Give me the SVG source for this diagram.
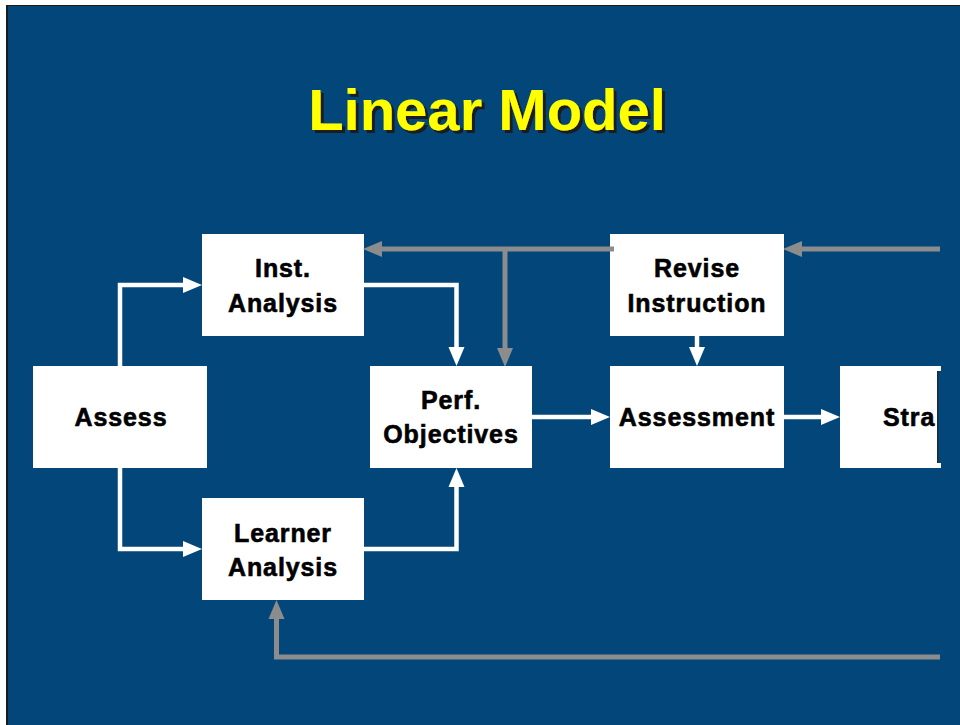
<svg xmlns="http://www.w3.org/2000/svg" width="960" height="725" viewBox="0 0 960 725">
  <defs>
    <style>
      .box { fill: #ffffff; }
      .lbl { font-family: "Liberation Sans", Arial, sans-serif; font-weight: bold; font-size: 25px; letter-spacing: 0.9px; fill: #000000; stroke: #000000; stroke-width: 0.6; text-anchor: middle; }
      .title { font-family: "Liberation Sans", Arial, sans-serif; font-weight: bold; font-size: 58px; text-anchor: middle; fill: #ffff00; filter: url(#shadow); }
      .wire-w { fill: none; stroke: #ffffff; stroke-width: 4.5; stroke-linejoin: miter; marker-end: url(#headW); }
      .wire-g { fill: none; stroke: #8c8c8c; stroke-width: 5; stroke-linejoin: miter; marker-end: url(#headG); }
    </style>
    <!-- hard dark drop shadow for the heading -->
    <filter id="shadow" x="-5%" y="-20%" width="110%" height="140%">
      <feOffset in="SourceAlpha" dx="3" dy="3" result="off"/>
      <feFlood flood-color="#1a1a1a"/>
      <feComposite in2="off" operator="in" result="sh"/>
      <feMerge>
        <feMergeNode in="sh"/>
        <feMergeNode in="SourceGraphic"/>
      </feMerge>
    </filter>
    <!-- arrowheads: the path ends at the base, the head extends 19px forward -->
    <marker id="headW" markerUnits="userSpaceOnUse" markerWidth="20" markerHeight="16" refX="0" refY="8" orient="auto" overflow="visible">
      <path d="M0,0 L19,8 L0,16 Z" fill="#ffffff"/>
    </marker>
    <marker id="headG" markerUnits="userSpaceOnUse" markerWidth="20" markerHeight="16" refX="0" refY="8" orient="auto" overflow="visible">
      <path d="M0,0 L19,8 L0,16 Z" fill="#8c8c8c"/>
    </marker>
    <clipPath id="clipStra">
      <rect x="840" y="366" width="97" height="102"/>
    </clipPath>
  </defs>

  <!-- slide background -->
  <rect x="0" y="0" width="960" height="725" fill="#ffffff"/>
  <rect x="6" y="5" width="954" height="720" fill="#1b1b1b"/>
  <rect x="8" y="6" width="952" height="719" fill="#03467a"/>

  <!-- title -->
  <g id="title">
    <text class="title" x="487" y="130">Linear Model</text>
  </g>

  <!-- connectors -->
  <g id="connectors">
    <path class="wire-w" d="M120,366 V285 H183"/>
    <path class="wire-w" d="M120,468 V549 H183"/>
    <path class="wire-w" d="M364,285 H456.5 V347"/>
    <path class="wire-w" d="M364,549 H456.5 V487"/>
    <path class="wire-w" d="M532,417 H591"/>
    <path class="wire-w" d="M697,336 V347"/>
    <path class="wire-w" d="M784,417 H821"/>
    <path class="wire-g" d="M940,249 H802"/>
    <path class="wire-g" d="M505,249 V348"/>
    <path class="wire-g" d="M940,657 H276.5 V619"/>
  </g>

  <!-- nodes -->
  <g id="inst-analysis">
    <rect class="box" x="202" y="234" width="162" height="102"/>
    <text class="lbl" x="283" y="277">Inst.</text>
    <text class="lbl" x="283" y="312">Analysis</text>
  </g>
  <g id="revise-instruction">
    <rect class="box" x="610" y="234" width="174" height="102"/>
    <text class="lbl" x="697" y="277">Revise</text>
    <text class="lbl" x="697" y="312">Instruction</text>
  </g>
  <!-- feedback line into Inst. Analysis, drawn over the Revise box edge -->
  <path class="wire-g" d="M614,249 H382"/>
  <g id="assess">
    <rect class="box" x="33" y="366" width="174" height="102"/>
    <text class="lbl" x="121" y="426">Assess</text>
  </g>
  <g id="perf-objectives">
    <rect class="box" x="370" y="366" width="162" height="102"/>
    <text class="lbl" x="451" y="409">Perf.</text>
    <text class="lbl" x="451" y="443">Objectives</text>
  </g>
  <g id="assessment">
    <rect class="box" x="610" y="366" width="174" height="102"/>
    <text class="lbl" x="697" y="426">Assessment</text>
  </g>
  <g id="strategy">
    <rect class="box" x="840" y="366" width="97" height="102"/>
    <rect class="box" x="937" y="366" width="4" height="5"/>
    <rect class="box" x="937" y="463" width="4" height="5"/>
    <rect x="937" y="371" width="1.5" height="92" fill="#1b2b3c"/>
    <text class="lbl" x="883" y="426" style="text-anchor:start" clip-path="url(#clipStra)">Stra</text>
  </g>
  <g id="learner-analysis">
    <rect class="box" x="202" y="498" width="162" height="102"/>
    <text class="lbl" x="283" y="542">Learner</text>
    <text class="lbl" x="283" y="576">Analysis</text>
  </g>
</svg>
